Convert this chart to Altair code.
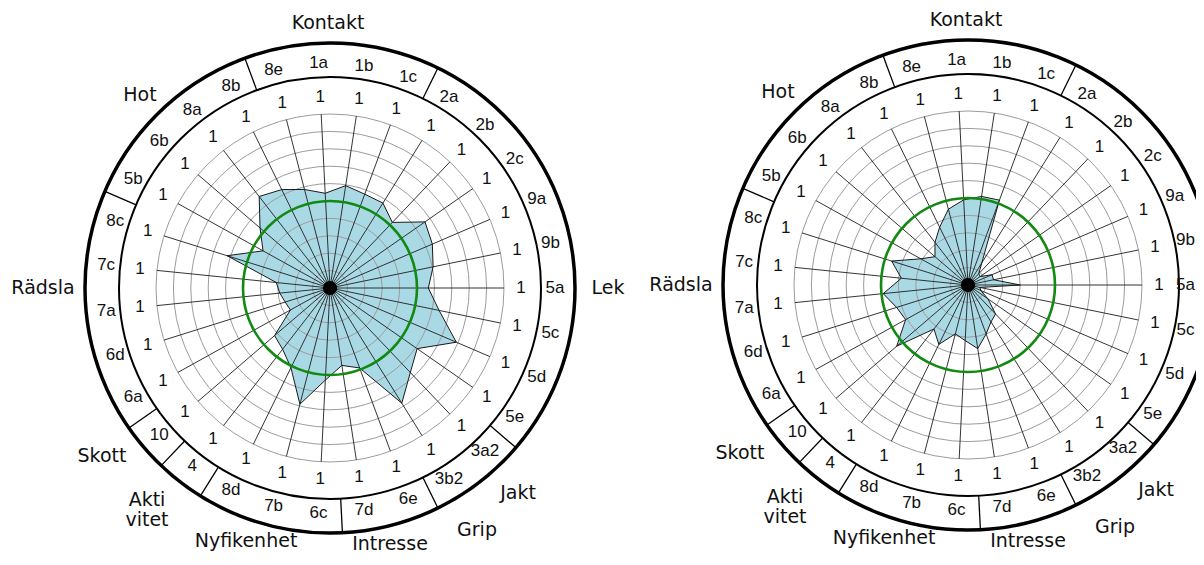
import math
import altair as alt
import pandas as pd

# ---------------- data ----------------
codes = ["1a", "1b", "1c", "2a", "2b", "2c", "9a", "9b", "5a", "5c", "5d", "5e",
         "3a2", "3b2", "6e", "7d", "6c", "7b", "8d", "4", "10", "6a", "6d", "7a",
         "7c", "8c", "5b", "6b", "8a", "8b", "8e"]
max_labels = ["1"] * len(codes)
segments = (["Kontakt"] * 3 + ["Lek"] * 9 + ["Jakt/Grip"] * 2 + ["Intresse"] * 2 +
            ["Nyfikenhet"] * 3 + ["Aktivitet"] + ["Skott"] + ["Rädsla"] * 5 +
            ["Hot"] * 4 + ["Kontakt"])
left_values = [0.545, 0.595, 0.575, 0.575, 0.52, 0.665, 0.64, 0.605, 0.565, 0.64,
               0.79, 0.61, 0.67, 0.78, 0.49, 0.45, 0.53, 0.69, 0.51, 0.445, 0.42,
               0.26, 0.27, 0.29, 0.31, 0.62, 0.44, 0.53, 0.665, 0.63, 0.585]
right_values = [0.49, 0.515, 0.52, 0.15, 0.09, 0.085, 0.15, 0.15, 0.30, 0.07,
                0.08, 0.14, 0.23, 0.25, 0.30, 0.37, 0.32, 0.29, 0.38, 0.32, 0.54,
                0.41, 0.43, 0.49, 0.385, 0.46, 0.31, 0.25, 0.31, 0.37, 0.45]
group_labels = ["Kontakt", "Lek", "Jakt", "Grip", "Intresse", "Nyfikenhet",
                "Akti\nvitet", "Skott", "Rädsla", "Hot"]
grid_levels = [0.1, 0.2, 0.3, 0.4, 0.5, 0.6, 0.7, 0.8, 0.9, 1.0]
reference_level = 0.5

# ---------------- layout ----------------
W, H = 1188, 549
X0, Y0 = 8, 8
CENTERS = {"left": (330, 288), "right": (968, 285)}
R = 174          # radius of value 1
R_ONES = 191
R_INNER = 211
R_CODES = 225
R_OUTER = 245
N = len(codes)
STEP = 360.0 / N
OFFSET = 90.0 - 8 * STEP   # 5a sits at 3 o'clock
# (dx, dy) offsets of group label anchors from each chart centre
GROUP_POS = {"Kontakt": (-2, -265), "Lek": (278, 0), "Jakt": (188, 205),
             "Grip": (147, 242), "Intresse": (60, 256), "Nyfikenhet": (-84, 253),
             "Akti\nvitet": (-183, 212), "Skott": (-228, 168), "Rädsla": (-287, 0),
             "Hot": (-190, -193)}
FONT = "Liberation Sans"
GFONT = "DejaVu Sans"
CODE_FS = 17
ONES_FS = 17
GROUP_FS = 19


def pt(chart, ang, r):
    cx, cy = CENTERS[chart]
    a = math.radians(ang)
    return cx + r * math.sin(a), cy - r * math.cos(a)


def fit_x(x, text, fs):
    half = 0.28 * fs * len(text)
    return min(max(x, X0 + half + 1), X0 + W - half - 1)


values = {"left": left_values, "right": right_values}

poly, spokes, rings, seps, ones, codetx, groups, dots = [], [], [], [], [], [], [], []
for ch in ["left", "right"]:
    cx, cy = CENTERS[ch]
    for i, c in enumerate(codes):
        ang = OFFSET + i * STEP
        x, y = pt(ch, ang, values[ch][i] * R)
        poly.append({"chart": ch, "i": i, "x": x, "y": y})
        x2, y2 = pt(ch, ang, R)
        spokes.append({"chart": ch, "x": cx, "y": cy, "x2": x2, "y2": y2})
        ox, oy = pt(ch, ang, R_ONES)
        ones.append({"x": fit_x(ox, max_labels[i], ONES_FS), "y": oy, "t": max_labels[i]})
        tx, ty = pt(ch, ang, R_CODES)
        codetx.append({"x": fit_x(tx, c, CODE_FS), "y": ty, "t": c})
        nxt = (i + 1) % N
        if segments[i] != segments[nxt]:
            sa = ang + STEP / 2
            a1 = pt(ch, sa, R_INNER)
            a2 = pt(ch, sa, R_OUTER)
            seps.append({"x": a1[0], "y": a1[1], "x2": a2[0], "y2": a2[1]})
    for lv in grid_levels:
        rings.append({"x": cx, "y": cy, "s": (2 * lv * R) ** 2, "kind": "grid"})
    rings.append({"x": cx, "y": cy, "s": (2 * reference_level * R) ** 2, "kind": "ref"})
    rings.append({"x": cx, "y": cy, "s": (2 * R_INNER) ** 2, "kind": "inner"})
    rings.append({"x": cx, "y": cy, "s": (2 * R_OUTER) ** 2, "kind": "outer"})
    dots.append({"x": cx, "y": cy})
    for g in group_labels:
        dx, dy = GROUP_POS[g]
        gx = cx + dx
        # a label lying beyond the visible page edge is not drawn (as in the source)
        if gx + 0.3 * GROUP_FS * len(g) > X0 + W:
            continue
        groups.append({"x": gx, "y": cy + dy, "t": g})

poly_df = pd.DataFrame(poly)
spoke_df = pd.DataFrame(spokes)
ring_df = pd.DataFrame(rings)
sep_df = pd.DataFrame(seps)
ones_df = pd.DataFrame(ones)
code_df = pd.DataFrame(codetx)
group_df = pd.DataFrame(groups)
dot_df = pd.DataFrame(dots)

xs = alt.Scale(domain=[X0, X0 + W], nice=False, zero=False)
ys = alt.Scale(domain=[Y0, Y0 + H], nice=False, zero=False, reverse=True)
X = alt.X("x:Q", scale=xs, axis=None)
Y = alt.Y("y:Q", scale=ys, axis=None)

poly_fill = alt.Chart(poly_df).mark_line(
    interpolate="linear-closed", fill="#aad9e6", strokeOpacity=0
).encode(x=X, y=Y, order="i:Q", detail="chart:N")

poly_line = alt.Chart(poly_df).mark_line(
    interpolate="linear-closed", stroke="#1a1a1a", strokeWidth=1
).encode(x=X, y=Y, order="i:Q", detail="chart:N")


def ring_layer(kind, color, width):
    return alt.Chart(ring_df).transform_filter(alt.datum.kind == kind).mark_point(
        shape="circle", filled=False, opacity=1, stroke=color, strokeWidth=width
    ).encode(x=X, y=Y, size=alt.Size("s:Q", scale=None))


grid = ring_layer("grid", "#9c9c9c", 1)
ref = ring_layer("ref", "#128a12", 2.6)
inner = ring_layer("inner", "#000000", 2)
outer = ring_layer("outer", "#000000", 3.5)

spoke_layer = alt.Chart(spoke_df).mark_rule(color="#1e1e1e", strokeWidth=0.9).encode(
    x=X, y=Y, x2="x2:Q", y2="y2:Q")
sep_layer = alt.Chart(sep_df).mark_rule(color="#000000", strokeWidth=1.3).encode(
    x=X, y=Y, x2="x2:Q", y2="y2:Q")

dot_layer = alt.Chart(dot_df).mark_point(
    shape="circle", filled=True, opacity=1, color="#000000", size=200
).encode(x=X, y=Y)

ones_layer = alt.Chart(ones_df).mark_text(
    font=FONT, fontSize=ONES_FS, color="#111111", align="center", baseline="middle"
).encode(x=X, y=Y, text="t:N")
code_layer = alt.Chart(code_df).mark_text(
    font=FONT, fontSize=CODE_FS, color="#111111", align="center", baseline="middle"
).encode(x=X, y=Y, text="t:N")
group_layer = alt.Chart(group_df).mark_text(
    font=GFONT, fontSize=GROUP_FS, color="#111111", align="center", baseline="middle",
    lineBreak="\n", lineHeight=20
).encode(x=X, y=Y, text="t:N")

chart = alt.layer(
    poly_fill, grid, spoke_layer, poly_line, ref, dot_layer, inner, outer,
    sep_layer, ones_layer, code_layer, group_layer
).properties(
    width=W, height=H, padding=0,
    autosize=alt.AutoSizeParams(type="none")
).configure_view(strokeWidth=0)

chart.save("out.html", embed_options={"renderer": "svg", "actions": False})
